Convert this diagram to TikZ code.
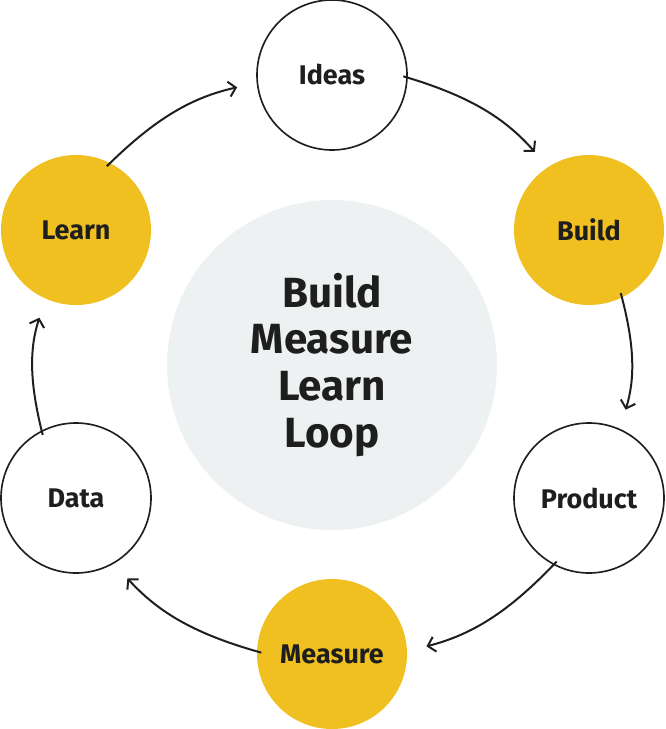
\documentclass[tikz,border=0pt]{standalone}
\usepackage{fontspec}
\setmainfont{Fira Sans}
\usepackage{xcolor}
\usetikzlibrary{arrows, arrows.meta}
\usetikzlibrary{positioning}
\definecolor{loopyellow}{HTML}{F0C021}
\definecolor{loopgrey}{HTML}{EDF1F2}
\definecolor{loopink}{HTML}{1E1E1E}

\begin{document}
\begin{tikzpicture}[x=0.03cm, y=-0.03cm,
		stage/.style={circle, minimum size=150*0.03cm, inner sep=0pt, font=\fontsize{23}{27}\selectfont\bfseries, text=loopink},
		plain/.style={stage, draw=loopink, line width=1.4pt, fill=white},
		hot/.style={stage, fill=loopyellow},
		flow/.style={-{Straight Barb[length=6pt, width=13pt]}, line width=1.7pt, draw=loopink, shorten >=17pt, shorten <=-4pt}]
					\useasboundingbox (0,0) rectangle (665,729);
					% draw centre circle
					\node[circle, fill=loopgrey, minimum size=330*0.03cm, inner sep=0pt, align=center, text=loopink,
						font=\fontsize{36}{40}\selectfont\bfseries] (core) at (332,365) {Build\\Measure\\Learn\\Loop};
					% draw stages
					\node[plain] (ideas) at (332,75) {Ideas};
					\node[hot] (build) at (589,230) {Build};
					\node[plain] (product) at (589,498) {Product};
					\node[hot] (measure) at (332,654) {Measure};
					\node[plain] (data) at (76,498) {Data};
					\node[hot] (learn) at (76,230) {Learn};
					% draw arrows
					\draw[flow] (learn.63) to[bend left=16] (ideas.186);
					\draw[flow] (ideas.-2) to[bend left=16] (build.123);
					\draw[flow] (build.-64) to[bend left=16] (product.66);
					\draw[flow] (product.-118) to[bend left=16] (measure.2);
					\draw[flow] (measure.178) to[bend left=16] (data.-60);
					\draw[flow] (data.117) to[bend left=16] (learn.-114);
				\end{tikzpicture}
\end{document}
